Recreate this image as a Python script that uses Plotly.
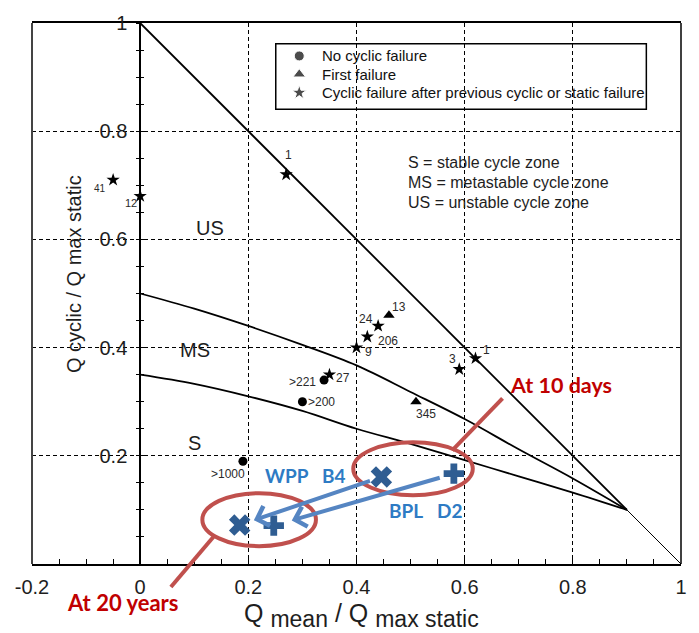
import plotly.graph_objects as go

# ---- data ----------------------------------------------------------------
# failure limit line  Qcyc + Qmean = Qmax
limit_x = [0.0, 0.9]
limit_y = [1.0, 0.1]
limit_tail_x = [0.9, 1.0]
limit_tail_y = [0.1, 0.0]

# boundary between metastable and unstable zones
ms_x = [0.0, 0.1, 0.2, 0.3, 0.4, 0.5, 0.6, 0.7, 0.8, 0.9]
ms_y = [0.5, 0.472, 0.44, 0.405, 0.367, 0.318, 0.268, 0.212, 0.158, 0.1]

# boundary between stable and metastable zones
s_x = [0.0, 0.1, 0.2, 0.3, 0.4, 0.5, 0.6, 0.7, 0.8, 0.9]
s_y = [0.35, 0.333, 0.31, 0.283, 0.25, 0.222, 0.192, 0.162, 0.132, 0.1]

# test results
nofail_x = [0.19, 0.30, 0.34]
nofail_y = [0.19, 0.30, 0.34]
nofail_labels = [">1000", ">200", ">221"]

first_x = [0.46, 0.51]
first_y = [0.46, 0.30]
first_labels = ["13", "345"]

cyclic_x = [-0.05, 0.0, 0.27, 0.35, 0.44, 0.42, 0.40, 0.59, 0.62]
cyclic_y = [0.71, 0.68, 0.72, 0.35, 0.44, 0.42, 0.40, 0.36, 0.38]
cyclic_labels = ["41", "12", "1", "27", "24", "206", "9", "3", "1"]

# pile load cases: 10 days and 20 years
wpp_x = [0.446, 0.184]
wpp_y = [0.161, 0.072]
bpl_x = [0.58, 0.247]
bpl_y = [0.167, 0.071]

legend_names = ["No cyclic failure", "First failure",
                "Cyclic failure after previous cyclic or static failure"]
legend_symbols = ["circle", "triangle-up", "star"]

x_tick_vals = [-0.2, 0.0, 0.2, 0.4, 0.6, 0.8, 1.0]
x_tick_text = ["-0.2", "0", "0.2", "0.4", "0.6", "0.8", "1"]
y_tick_vals = [0.2, 0.4, 0.6, 0.8, 1.0]
y_tick_text = ["0.2", "0.4", "0.6", "0.8", "1"]

# ---- styles --------------------------------------------------------------
FONT = "Liberation Sans"
CALLOUT_FONT = "Lato"
INK = "#1e1e1e"
RED = "#c0504d"
RED_TEXT = "#c00000"
BLUE_MARK = "#2f5d92"
BLUE_ARROW = "#5585c2"
BLUE_TEXT = "#2e7bc4"

fig = go.Figure()

line_style = dict(color="black", width=1.8)
fig.add_trace(go.Scatter(x=limit_x, y=limit_y, mode="lines", line=line_style,
                         showlegend=False, hoverinfo="skip"))
fig.add_trace(go.Scatter(x=limit_tail_x, y=limit_tail_y, mode="lines",
                         line=dict(color="black", width=1.0),
                         showlegend=False, hoverinfo="skip"))
fig.add_trace(go.Scatter(x=ms_x, y=ms_y, mode="lines", line=dict(line_style, shape="spline"),
                         showlegend=False, hoverinfo="skip"))
fig.add_trace(go.Scatter(x=s_x, y=s_y, mode="lines", line=dict(line_style, shape="spline"),
                         showlegend=False, hoverinfo="skip"))

fig.add_trace(go.Scatter(x=nofail_x, y=nofail_y, mode="markers", name=legend_names[0],
                         showlegend=False,
                         marker=dict(symbol="circle", size=9, color="black")))
fig.add_trace(go.Scatter(x=first_x, y=first_y, mode="markers", name=legend_names[1],
                         showlegend=False,
                         marker=dict(symbol="triangle-up", size=10, color="black")))
fig.add_trace(go.Scatter(x=cyclic_x, y=cyclic_y, mode="markers", name=legend_names[2],
                         showlegend=False,
                         marker=dict(symbol="star", size=10, color="black")))

# arrows from the 10-day state to the 20-year state
for xs, ys in ((wpp_x, wpp_y), (bpl_x, bpl_y)):
    t0, t1 = 0.07, 0.9
    x_tail = xs[0] + t0 * (xs[1] - xs[0])
    y_tail = ys[0] + t0 * (ys[1] - ys[0])
    x_head = xs[0] + t1 * (xs[1] - xs[0])
    y_head = ys[0] + t1 * (ys[1] - ys[0])
    fig.add_annotation(x=x_head, y=y_head, ax=x_tail, ay=y_tail, xref="x", yref="y",
                       axref="x", ayref="y", text="", showarrow=True,
                       arrowhead=4, arrowsize=1.0, arrowwidth=4, arrowcolor=BLUE_ARROW)

fig.add_trace(go.Scatter(x=wpp_x, y=wpp_y, mode="markers", showlegend=False,
                         marker=dict(symbol="x", size=19, color=BLUE_MARK,
                                     line=dict(width=0))))
fig.add_trace(go.Scatter(x=bpl_x, y=bpl_y, mode="markers", showlegend=False,
                         marker=dict(symbol="cross", size=17, color=BLUE_MARK,
                                     line=dict(width=0))))

# invisible trace carrying the inner tick set of the y axis
fig.add_trace(go.Scatter(x=[None], y=[None], yaxis="y2", showlegend=False, hoverinfo="skip"))

# ---- legend box (drawn on a hidden unit-square overlay) --------------------
LEG_LEFT, LEG_RIGHT, LEG_TOP, LEG_BOTTOM = 0.3756, 0.9466, 0.9618, 0.8408
leg_rows = [0.9391, 0.9053, 0.8713]
fig.add_trace(go.Scatter(x=[0.4118] * 3, y=leg_rows, mode="markers", xaxis="x3", yaxis="y3",
                         showlegend=False, hoverinfo="skip",
                         marker=dict(symbol=legend_symbols, size=[10, 11, 11], color="black")))
for name, yr in zip(legend_names, leg_rows):
    fig.add_annotation(x=0.4443, y=yr, xref="paper", yref="paper", text=name,
                       showarrow=False, xanchor="left", yanchor="middle",
                       font=dict(family=FONT, size=15, color="#111"))

# point labels: (xanchor, xshift, yshift, size)
nofail_pos = [("center", -15, -13, 12), ("left", 5, 0, 12), ("right", -7, -2, 12)]
first_pos = [("left", 2, 8, 12), ("center", 10, -12, 12)]
cyclic_pos = [("right", -6, -9, 10), ("right", -2, -7, 11), ("center", 2, 19, 12),
              ("left", 6, -3, 12), ("right", -4, 7, 12), ("left", 10, -4, 12),
              ("left", 7, -4, 12), ("center", -7, 10, 12), ("left", 7, 8, 12)]
for xs, ys, labels, pos in ((nofail_x, nofail_y, nofail_labels, nofail_pos),
                            (first_x, first_y, first_labels, first_pos),
                            (cyclic_x, cyclic_y, cyclic_labels, cyclic_pos)):
    for x, y, lab, (anc, dx, dy, sz) in zip(xs, ys, labels, pos):
        fig.add_annotation(x=x, y=y, text=lab, showarrow=False, xanchor=anc,
                           yanchor="middle", xshift=dx, yshift=dy, borderpad=0,
                           font=dict(family=FONT, size=sz, color="#2a2a2a"))

# zone labels
for txt, x, y in (("US", 0.13, 0.622), ("MS", 0.101, 0.395), ("S", 0.1, 0.223)):
    fig.add_annotation(x=x, y=y, text=txt, showarrow=False, xanchor="center", yanchor="middle",
                       font=dict(family=FONT, size=20, color=INK))

for txt, y in (("S = stable cycle zone", 0.742),
               ("MS = metastable cycle zone", 0.705),
               ("US = unstable cycle zone", 0.668)):
    fig.add_annotation(x=0.492, y=y, text=txt, showarrow=False, xanchor="left",
                       yanchor="middle", font=dict(family=FONT, size=16, color=INK))

# pile names
for txt, x, y in (("WPP", 0.272, 0.164), ("B4", 0.358, 0.164),
                  ("BPL", 0.492, 0.0996), ("D2", 0.572, 0.0996)):
    fig.add_annotation(x=x, y=y, text="<b>" + txt + "</b>", showarrow=False,
                       xanchor="center", yanchor="middle",
                       font=dict(family=CALLOUT_FONT, size=19, color=BLUE_TEXT))

# call-outs
fig.add_annotation(x=0.778, y=0.33, text="<b>At 10 days</b>", showarrow=False,
                   xanchor="center", yanchor="middle",
                   font=dict(family=CALLOUT_FONT, size=21.5, color=RED_TEXT))
fig.add_annotation(x=0.14, y=-0.071, xref="paper", yref="paper", text="<b>At 20 years</b>",
                   xanchor="center", yanchor="middle", showarrow=False,
                   font=dict(family=CALLOUT_FONT, size=22, color=RED_TEXT))

# axis titles
fig.add_annotation(x=0.507, y=-0.095, xref="paper", yref="paper", showarrow=False,
                   xanchor="center", yanchor="middle",
                   text="Q <sub><span style='font-size:23px'>mean</span></sub> / "
                        "Q <sub><span style='font-size:23px'>max static</span></sub>",
                   font=dict(family=FONT, size=25, color=INK))
fig.add_annotation(x=0.064, y=0.535, xref="paper", yref="paper", showarrow=False,
                   xanchor="center", yanchor="middle",
                   textangle=-90, text="Q cyclic / Q max static",
                   font=dict(family=FONT, size=20, color=INK))

shapes = [
    dict(type="rect", xref="paper", yref="paper", x0=LEG_LEFT, x1=LEG_RIGHT,
         y0=LEG_BOTTOM, y1=LEG_TOP, fillcolor="white", line=dict(color="black", width=1.5),
         layer="below"),
    dict(type="circle", xref="x", yref="y", x0=0.394, x1=0.615, y0=0.127, y1=0.225,
         line=dict(color=RED, width=4), layer="above"),
    dict(type="circle", xref="x", yref="y", x0=0.115, x1=0.325, y0=0.033, y1=0.131,
         line=dict(color=RED, width=4), layer="above"),
    dict(type="line", xref="x", yref="y", x0=0.577, y0=0.21, x1=0.67, y1=0.306,
         line=dict(color=RED, width=4), layer="above"),
    dict(type="line", xref="paper", yref="paper", x0=0.282, y0=0.0535, x1=0.214, y1=-0.0424,
         line=dict(color=RED, width=4), layer="above"),
    dict(type="line", xref="paper", yref="paper", x0=0, y0=0, x1=0, y1=1,
         line=dict(color="#444", width=2), layer="above"),
    dict(type="line", xref="paper", yref="paper", x0=1, y0=0, x1=1, y1=1,
         line=dict(color="black", width=1.5), layer="above"),
]

grid = dict(showgrid=True, gridcolor="black", gridwidth=1, griddash="4px,3px")

fig.update_layout(
    width=699, height=633,
    margin=dict(l=32, r=12, t=22, b=69),
    paper_bgcolor="white", plot_bgcolor="white",
    font=dict(family=FONT, color=INK),
    shapes=shapes,
    showlegend=False,
    xaxis=dict(range=[-0.2, 1.0], tickvals=x_tick_vals, ticktext=x_tick_text,
               ticks="inside", ticklen=5, tickcolor="black", tickwidth=1,
               minor=dict(dtick=0.05, ticks="inside", ticklen=5, tickcolor="black", showgrid=False),
               showline=True, linecolor="black", linewidth=1.8, mirror=True,
               zeroline=False, tickfont=dict(family=FONT, size=20, color=INK),
               ticklabelstandoff=4, **grid),
    yaxis=dict(range=[0.0, 1.0], tickvals=y_tick_vals, ticktext=y_tick_text,
               anchor="free", position=0.2 / 1.2,
               ticks="outside", ticklen=3, tickcolor="black",
               minor=dict(dtick=0.05, ticks="outside", ticklen=3, tickcolor="black", showgrid=False),
               showline=True, linecolor="black", linewidth=1.8,
               zeroline=False, tickfont=dict(family=FONT, size=20, color=INK),
               ticklabelstandoff=5, **grid),
    yaxis2=dict(range=[0.0, 1.0], overlaying="y", anchor="free", position=0.2 / 1.2,
                tickvals=y_tick_vals, showticklabels=False,
                ticks="inside", ticklen=3, tickcolor="black",
                minor=dict(dtick=0.05, ticks="inside", ticklen=3, tickcolor="black", showgrid=False),
                showline=False, showgrid=False, zeroline=False),
    xaxis3=dict(range=[0, 1], overlaying="x", visible=False, fixedrange=True),
    yaxis3=dict(range=[0, 1], overlaying="y", visible=False, fixedrange=True, anchor="x3"),
)

fig.write_html("out.html")
